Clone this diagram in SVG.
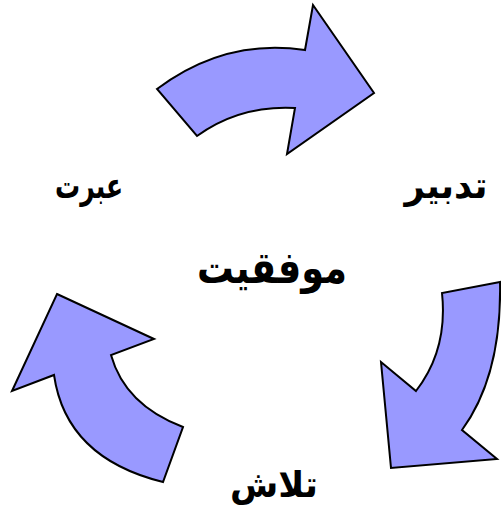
<svg xmlns="http://www.w3.org/2000/svg" width="501" height="507" viewBox="0 0 501 507">
<style>
.arrow{fill:#9999FF;stroke:#000;stroke-width:2;stroke-linejoin:miter}
.lbl{font-family:"DejaVu Sans","Noto Sans",sans-serif;font-weight:bold;fill:#000;text-anchor:middle}
</style>
<rect width="501" height="507" fill="#fff"/>
<g id="connectors">
<path id="arrow-top" class="arrow" d="M157,89 Q225,38 305,50 L313,5 L374,93 L287,154 L295,108 Q240,105 197,136 Z"/>
<path id="arrow-right" class="arrow" d="M500,282 L442,293 Q448,350 416,391 L381,362 L391,468 L497,459 L462,430 Q502,375 500,282 Z"/>
<path id="arrow-left" class="arrow" d="M57,294 L154,339 L111,355 Q125,405 183,427 L163,482 Q66,458 54,375 L12,391 Z"/>
</g>
<g id="node-tadbir"><text class="lbl" x="446" y="198" font-size="36" textLength="83" lengthAdjust="spacingAndGlyphs">تدبیر</text></g>
<g id="node-ebrat"><text class="lbl" x="89" y="198" font-size="36" textLength="68" lengthAdjust="spacingAndGlyphs">عبرت</text></g>
<g id="node-movafaghiat"><text class="lbl" x="272" y="283" font-size="44" textLength="150" lengthAdjust="spacingAndGlyphs">موفقیت</text></g>
<g id="node-talash"><text class="lbl" x="274" y="497" font-size="36" textLength="88" lengthAdjust="spacingAndGlyphs">تلاش</text></g>
</svg>
